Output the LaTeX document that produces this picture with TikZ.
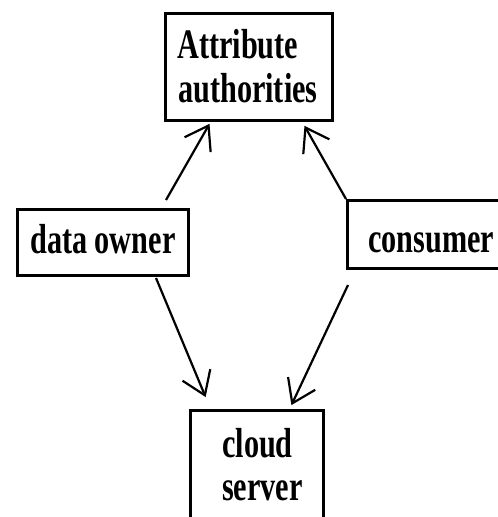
\documentclass[tikz,border=0pt]{standalone}
\usepackage{fontspec}
\setmainfont{Liberation Serif}[FakeStretch=0.72]
\usetikzlibrary{arrows.meta}
\tikzset{
  box/.style={draw, line width=3pt, inner sep=0pt},
  lbl/.style={anchor=base west, inner sep=0pt, font=\fontsize{42}{46}\selectfont\bfseries},
  arr/.style={line width=2.2pt, -{Straight Barb[length=22pt,width=30pt,line width=2.2pt]}, shorten >=1pt}
}
\begin{document}
\begin{tikzpicture}[x=1pt, y=-1pt]
  \useasboundingbox (0,0) rectangle (498,517);
  \fill[white] (0,0) rectangle (498,517);
  \clip (0,0) rectangle (498,517);

  % boxes
  \node[box, minimum width=167pt, minimum height=107pt] (aa) at (248.5,66.5) {};
  \node[box, minimum width=171pt, minimum height=66pt]  (do) at (102.5,242) {};
  \node[box, minimum width=166pt, minimum height=68pt]  (co) at (430,234) {};
  \node[box, minimum width=133pt, minimum height=140pt] (cs) at (256.5,480) {};

  % labels
  \node[lbl] (aa1) at (177,58)  {Attribute};
  \node[lbl] (aa2) at (178,102) {authorities};
  \node[lbl] (do1) at (30,253)  {data owner};
  \node[lbl] (co1) at (368,252) {consumer};
  \node[lbl] (cs1) at (222,457) {cloud};
  \node[lbl] (cs2) at (222,500) {server};

  % connector end points
  \coordinate (t1) at (166,200);
  \coordinate (h1) at (210,123);
  \coordinate (t2) at (346,199);
  \coordinate (h2) at (304,125);
  \coordinate (t3) at (156,278);
  \coordinate (h3) at (206,398);
  \coordinate (t4) at (348,285);
  \coordinate (h4) at (291,406);

  % connectors
  \draw[arr] (t1) -- (h1);
  \draw[arr] (t2) -- (h2);
  \draw[arr] (t3) -- (h3);
  \draw[arr] (t4) -- (h4);
\end{tikzpicture}
\end{document}
